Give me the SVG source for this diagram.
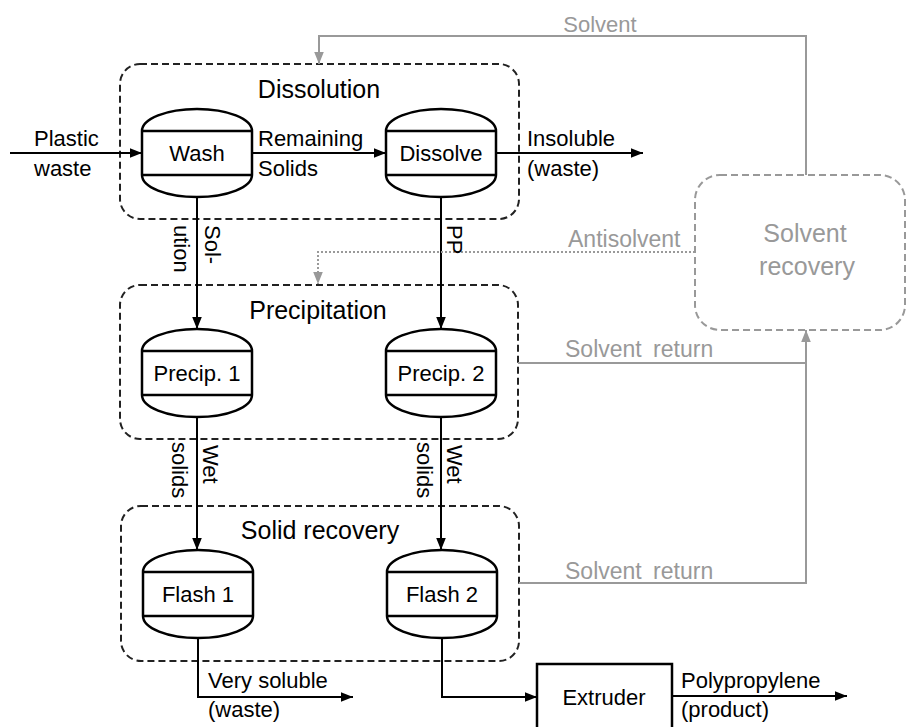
<svg xmlns="http://www.w3.org/2000/svg" width="907" height="727" viewBox="0 0 907 727">
<style>
text{font-family:"Liberation Sans",Arial,sans-serif;font-size:22px;fill:#000}
.h{font-size:25px}
.g{fill:#999}
.c{text-anchor:middle}
.grp{fill:none;stroke:#222;stroke-width:2;stroke-dasharray:7 4}
.ggrp{fill:none;stroke:#999;stroke-width:2;stroke-dasharray:7 4}
.ves{fill:#fff;stroke:#000;stroke-width:2.5}
.ln{fill:none;stroke:#000;stroke-width:2}
.gl{fill:none;stroke:#999;stroke-width:2}
.dl{fill:none;stroke:#999;stroke-width:2;stroke-dasharray:2 2}
</style>
<defs>
<marker id="ah" viewBox="0 0 10 10" refX="10" refY="5" markerWidth="12" markerHeight="12" markerUnits="userSpaceOnUse" orient="auto"><path d="M0,1 L10,5 L0,9z" fill="#000"/></marker>
<marker id="ag" viewBox="0 0 10 10" refX="10" refY="5" markerWidth="12" markerHeight="12" markerUnits="userSpaceOnUse" orient="auto"><path d="M0,1 L10,5 L0,9z" fill="#999"/></marker>
<path id="vessel" d="M0,22 A55,22 0 0 1 110,22 V66 A55,22 0 0 1 0,66 Z M0,22 H110 M0,66 H110"/>
</defs>

<g id="dissolution">
<rect class="grp" x="120" y="64" width="399" height="155" rx="20"/>
<text class="h c" x="319" y="98">Dissolution</text>
</g>
<g id="precipitation">
<rect class="grp" x="120" y="285" width="398" height="154" rx="20"/>
<text class="h c" x="318" y="319">Precipitation</text>
</g>
<g id="solid-recovery">
<rect class="grp" x="121" y="506" width="398" height="155" rx="20"/>
<text class="h c" x="320" y="539">Solid recovery</text>
</g>
<g id="solvent-recovery">
<rect class="ggrp" x="695" y="175" width="210" height="155" rx="25"/>
<text class="h c g" x="805" y="242">Solvent</text>
<text class="h c g" x="807" y="275">recovery</text>
</g>

<g id="wash"><use href="#vessel" class="ves" transform="translate(142,109)"/><text class="c" x="197" y="161">Wash</text></g>
<g id="dissolve"><use href="#vessel" class="ves" transform="translate(386,109)"/><text class="c" x="441" y="161">Dissolve</text></g>
<g id="precip1"><use href="#vessel" class="ves" transform="translate(142,329)"/><text class="c" x="197" y="381">Precip. 1</text></g>
<g id="precip2"><use href="#vessel" class="ves" transform="translate(386,329)"/><text class="c" x="441" y="381">Precip. 2</text></g>
<g id="flash1"><use href="#vessel" class="ves" transform="translate(143,550)"/><text class="c" x="198" y="602">Flash 1</text></g>
<g id="flash2"><use href="#vessel" class="ves" transform="translate(387,550)"/><text class="c" x="442" y="602">Flash 2</text></g>
<g id="extruder"><rect x="537" y="664" width="135" height="80" fill="#fff" stroke="#000" stroke-width="2.5"/><text class="c" x="604" y="705">Extruder</text></g>

<g id="connectors">
<path class="ln" d="M10,153 H142" marker-end="url(#ah)"/>
<path class="ln" d="M252,153 H386" marker-end="url(#ah)"/>
<path class="ln" d="M496,153 H643" marker-end="url(#ah)"/>
<path class="ln" d="M197,197 V329" marker-end="url(#ah)"/>
<path class="ln" d="M441,197 V329" marker-end="url(#ah)"/>
<path class="ln" d="M197,417 V550" marker-end="url(#ah)"/>
<path class="ln" d="M441,417 V550" marker-end="url(#ah)"/>
<path class="ln" d="M198,638 V697 H353" marker-end="url(#ah)"/>
<path class="ln" d="M442,638 V697 H537" marker-end="url(#ah)"/>
<path class="ln" d="M672,696 H847" marker-end="url(#ah)"/>
<path class="gl" d="M806,175 V36 H319 V64" marker-end="url(#ag)"/>
<path class="dl" d="M695,252 H318 V284" marker-end="url(#ag)"/>
<path class="gl" d="M518,363 H806"/>
<path class="gl" d="M519,583 H806 V330" marker-end="url(#ag)"/>

<text x="34" y="146">Plastic</text>
<text x="34" y="176">waste</text>
<text x="258" y="146">Remaining</text>
<text x="258" y="176">Solids</text>
<text x="527" y="146">Insoluble</text>
<text x="527" y="176">(waste)</text>
<text class="g c" x="600" y="32">Solvent</text>
<text class="g" x="568" y="247" style="font-size:23px">Antisolvent</text>
<text class="g" x="565" y="357" style="font-size:23px;word-spacing:5px">Solvent return</text>
<text class="g" x="565" y="579" style="font-size:23px;word-spacing:5px">Solvent return</text>
<text x="208" y="688">Very soluble</text>
<text x="208" y="717">(waste)</text>
<text x="681" y="688">Polypropylene</text>
<text x="681" y="717">(product)</text>
<text transform="translate(205,225) rotate(90)">Sol-</text>
<text transform="translate(174,225) rotate(90)">ution</text>
<text transform="translate(447,225) rotate(90)">PP</text>
<text transform="translate(203,445) rotate(90)">Wet</text>
<text transform="translate(172,442) rotate(90)">solids</text>
<text transform="translate(447,445) rotate(90)">Wet</text>
<text transform="translate(417,442) rotate(90)">solids</text>
</g>
</svg>
